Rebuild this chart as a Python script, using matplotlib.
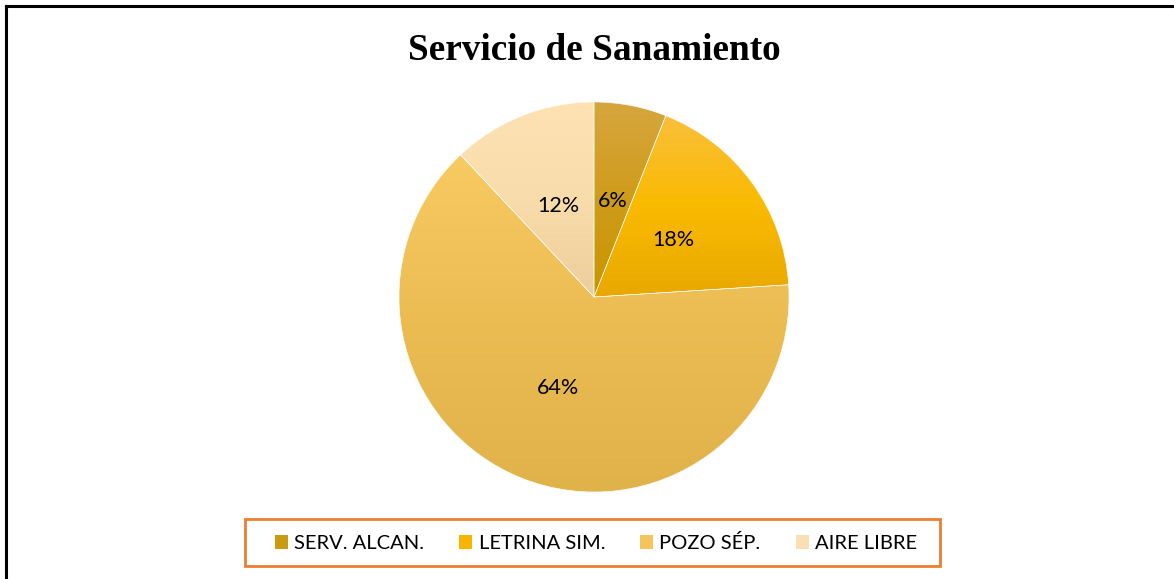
import numpy as np
import matplotlib.pyplot as plt
from matplotlib.colors import LinearSegmentedColormap
from matplotlib.patches import Rectangle
from matplotlib.lines import Line2D

plt.rcParams['font.family'] = ['Lato', 'DejaVu Sans']

categories = ['SERV. ALCAN.', 'LETRINA SIM.', 'POZO SÉP.', 'AIRE LIBRE']
values = [6, 18, 64, 12]
# (top, middle, bottom) of each slice's vertical gradient
grad_colors = [
    ('#D6A63F', '#CF9C1A', '#C89500'),
    ('#F9BF3C', '#FABA00', '#E8A800'),
    ('#F8CA62', '#EABC52', '#E0B24A'),
    ('#FFE2B4', '#F9DCAB', '#EDCE9C'),
]
legend_colors = ['#CC9A10', '#F7B500', '#F5C45A', '#FADFB3']

W, H = 1174, 579
fig = plt.figure(figsize=(W / 100, H / 100), dpi=100)

# outer frame (top and left edges visible)
fig.add_artist(Line2D([6/W, 1.0], [1 - 6/H, 1 - 6/H], color='black', lw=2.2,
                      transform=fig.transFigure))
fig.add_artist(Line2D([6/W, 6/W], [1 - 6/H, 0.0], color='black', lw=2.2,
                      transform=fig.transFigure))

fig.text(594/W, 1 - 50/H, 'Servicio de Sanamiento', ha='center', va='center',
         fontsize=26.8, fontweight='bold', family='Liberation Serif')

ax = fig.add_axes([399/W, 87/H, 390/W, 390/H])
wedges, texts, autotexts = ax.pie(values, startangle=90, counterclock=False,
                                  autopct='%1.0f%%', pctdistance=0.5,
                                  wedgeprops=dict(edgecolor='white', linewidth=0.4),
                                  textprops=dict(fontsize=15.5, color='black'))
ax.set_xlim(-1, 1)
ax.set_ylim(-1, 1)
ax.set_aspect('equal')
ax.axis('off')

for w, cols in zip(wedges, grad_colors):
    w.set_facecolor('none')
    bb = w.get_path().get_extents()
    cmap = LinearSegmentedColormap.from_list('g', list(cols))
    grad = np.linspace(0, 1, 256).reshape(-1, 1)
    im = ax.imshow(grad, cmap=cmap, aspect='auto', origin='upper',
                   extent=[bb.x0, bb.x1, bb.y0, bb.y1], zorder=1)
    im.set_clip_path(w)
for w in wedges:
    w.set_zorder(2)
for t in autotexts:
    t.set_zorder(3)

# legend box
fig.add_artist(Rectangle((245/W, 1 - 566/H), 695/W, 47/H, transform=fig.transFigure,
                         facecolor='white', edgecolor='#ED7D31', linewidth=2, zorder=4))
handles = [Rectangle((0, 0), 1, 1, facecolor=c) for c in legend_colors]
leg = fig.legend(handles, categories, loc='center', bbox_to_anchor=(596/W, 1 - 543/H),
                 ncol=4, fontsize=14.5, frameon=False,
                 handlelength=0.65, handleheight=0.65, handletextpad=0.3,
                 columnspacing=1.75, borderpad=0.3)
leg.set_zorder(5)

fig.savefig('out.png', dpi=100)
